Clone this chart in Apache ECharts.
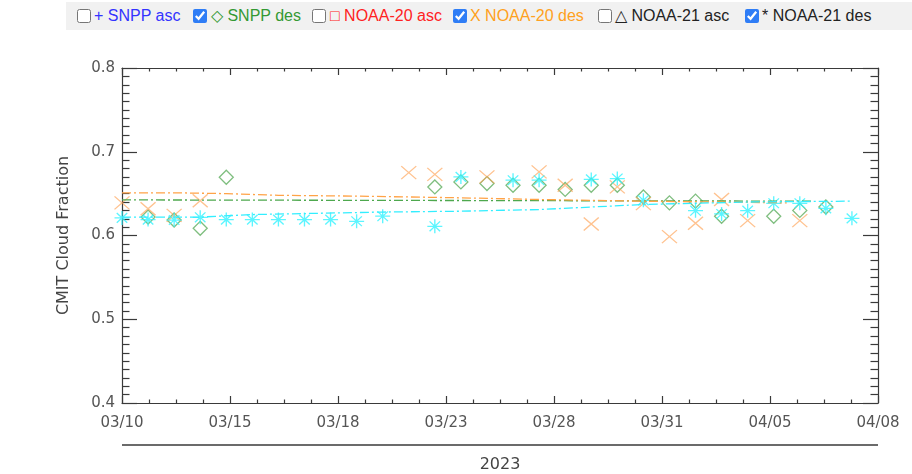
<!DOCTYPE html>
<html>
<head>
<meta charset="utf-8">
<script src="https://cdn.jsdelivr.net/npm/echarts@6/dist/echarts.min.js"></script>
<style>
  html, body { margin: 0; padding: 0; background: #fff; }
  #wrap { position: relative; width: 912px; height: 474px; overflow: hidden; }
  #chart { position: absolute; left: 0; top: 0; width: 912px; height: 474px; }
  #legend { position: absolute; left: 66px; top: 2px; right: 0; height: 28px; background: #f1f1f1;
            font-family: "Liberation Sans", Arial, sans-serif; font-size: 16px; z-index: 2; }
  #legend .cb { position: absolute; top: 7px; width: 14px; height: 14px; margin: 0; accent-color: #2f7df6; }
  #legend .lb { position: absolute; top: 5px; white-space: nowrap; line-height: 18px; }
</style>
</head>
<body>
<div id="wrap">
  <div id="legend"></div>
  <div id="chart"></div>
</div>
<script>
// ---- data ----
const xTickLabels = ['03/10', '03/15', '03/18', '03/23', '03/28', '03/31', '04/05', '04/08'];
const dayMax = 29; // 03/10 -> 04/08

const legendLabels = ['+ SNPP asc', '\u25C7 SNPP des', '\u25A1 NOAA-20 asc', 'X NOAA-20 des', '\u25B3 NOAA-21 asc', '* NOAA-21 des'];
const legendChecked = [false, true, false, true, false, true];

// SNPP descending (green diamonds), day offsets from 03/10
const snppDesDays = [1, 2, 3, 4, 12, 13, 14, 15, 16, 17, 18, 19, 20, 21, 22, 23, 25, 26, 27];
const snppDesVals = [0.622, 0.6185, 0.6086, 0.6695, 0.658, 0.664, 0.662, 0.660, 0.660, 0.655, 0.660, 0.660, 0.646, 0.639, 0.641, 0.623, 0.623, 0.630, 0.634];

// NOAA-20 descending (orange X)
const n20DesDays = [0, 1, 2, 3, 11, 12, 14, 16, 17, 18, 19, 20, 21, 22, 23, 24, 26];
const n20DesVals = [0.639, 0.632, 0.624, 0.6415, 0.675, 0.673, 0.670, 0.676, 0.660, 0.6137, 0.658, 0.638, 0.5986, 0.6146, 0.643, 0.6177, 0.6177];

// NOAA-21 descending (cyan asterisks)
const n21DesDays = [0, 1, 2, 3, 4, 5, 6, 7, 8, 9, 10, 12, 13, 15, 16, 18, 19, 20, 22, 23, 24, 25, 26, 27, 28];
const n21DesVals = [0.621, 0.619, 0.6185, 0.6217, 0.619, 0.619, 0.619, 0.619, 0.619, 0.617, 0.623, 0.611, 0.670, 0.666, 0.666, 0.667, 0.668, 0.642, 0.6296, 0.6257, 0.6296, 0.6385, 0.6385, 0.6325, 0.6205];

// running-mean trend lines (dash-dot)
const snppTrendDays = [0, 26.5];
const snppTrendVals = [0.6425, 0.641];
const n20TrendDays = [0, 2, 4, 6, 9, 13, 16, 20, 25.5];
const n20TrendVals = [0.651, 0.651, 0.650, 0.648, 0.647, 0.645, 0.643, 0.641, 0.639];
const n21TrendDays = [0, 3, 5, 10, 13, 16, 20, 24, 28];
const n21TrendVals = [0.622, 0.622, 0.625, 0.628, 0.629, 0.631, 0.637, 0.640, 0.641];

const yearLabel = '2023';
const yName = 'CMIT Cloud Fraction';

// ---- legend (HTML checkboxes) ----
const legendColors = ['#3333ff', '#339933', '#ff2222', '#ffa020', '#222222', '#222222'];
const legendCbX = [11, 127, 246, 387, 532, 679];
const legendTxtX = [28, 145, 264, 404, 549, 696];
const lg = document.getElementById('legend');
legendLabels.forEach((t, i) => {
  const cb = document.createElement('input');
  cb.type = 'checkbox'; cb.className = 'cb'; cb.checked = legendChecked[i];
  cb.style.left = legendCbX[i] + 'px';
  lg.appendChild(cb);
  const sp = document.createElement('span');
  sp.className = 'lb'; sp.textContent = t; sp.style.color = legendColors[i];
  sp.style.left = legendTxtX[i] + 'px';
  lg.appendChild(sp);
});

// ---- chart ----
const zip = (a, b) => a.map((d, i) => [d, b[i]]);
const majorX = dayMax / (xTickLabels.length - 1);
const axisColor = '#3a3a3a';
const labelColor = '#555';
const fontFam = '"DejaVu Sans", sans-serif';

const chart = echarts.init(document.getElementById('chart'), null, { renderer: 'canvas' });

const xCommon = {
  type: 'value', min: 0, max: dayMax, interval: majorX,
  axisLine: { show: true, onZero: false, lineStyle: { color: axisColor, width: 1.2 } },
  axisTick: { show: true, inside: true, length: 7, lineStyle: { color: axisColor, width: 1.2 } },
  minorTick: { show: true, splitNumber: 4, length: 3.5, lineStyle: { color: axisColor, width: 1.2 } },
  splitLine: { show: false }
};
const yCommon = {
  type: 'value', min: 0.4, max: 0.8, interval: 0.1,
  axisLine: { show: true, onZero: false, lineStyle: { color: axisColor, width: 1.2 } },
  axisTick: { show: true, inside: true, length: 15, lineStyle: { color: axisColor, width: 1.2 } },
  minorTick: { show: true, splitNumber: 10, length: 7.5, lineStyle: { color: axisColor, width: 1.2 } },
  splitLine: { show: false }
};

const xPath = 'path://M0,0L10,10M10,0L0,10';
const starPath = 'path://M5,0L5,10M0,5L10,5M1.5,1.5L8.5,8.5M8.5,1.5L1.5,8.5';
const diamondPath = 'path://M5,0L10,5L5,10L0,5Z';

const option = {
  animation: false,
  grid: { left: 122, right: 34, top: 68, bottom: 71 },
  xAxis: [
    Object.assign({}, xCommon, {
      position: 'bottom',
      axisLabel: {
        show: true, margin: 13, color: labelColor, fontFamily: fontFam, fontSize: 15,
        formatter: v => xTickLabels[Math.round(v / majorX)] || ''
      }
    }),
    Object.assign({}, xCommon, { position: 'top', axisLabel: { show: false } })
  ],
  yAxis: [
    Object.assign({}, yCommon, {
      position: 'left',
      name: yName, nameLocation: 'middle', nameGap: 50, nameRotate: 90,
      nameTextStyle: { color: '#444', fontFamily: fontFam, fontSize: 16 },
      axisLabel: { show: true, margin: 7, color: labelColor, fontFamily: fontFam, fontSize: 15,
                   formatter: v => v.toFixed(1) }
    }),
    Object.assign({}, yCommon, { position: 'right', axisLabel: { show: false } })
  ],
  graphic: [
    { type: 'line', shape: { x1: 122, y1: 445, x2: 878, y2: 445 }, style: { stroke: axisColor, lineWidth: 1.5 } },
    { type: 'text', x: 500, y: 465, style: { text: yearLabel, fill: '#444', font: '16px "DejaVu Sans", sans-serif', align: 'center', verticalAlign: 'middle' } }
  ],
  series: [
    { type: 'line', data: zip(snppTrendDays, snppTrendVals), symbol: 'none', silent: true,
      lineStyle: { color: '#4ea84e', width: 1.3, type: [9, 3, 2, 3] } },
    { type: 'line', data: zip(n20TrendDays, n20TrendVals), symbol: 'none', silent: true,
      lineStyle: { color: '#ffa347', width: 1.3, type: [9, 3, 2, 3] } },
    { type: 'line', data: zip(n21TrendDays, n21TrendVals), symbol: 'none', silent: true,
      lineStyle: { color: '#33eeff', width: 1.3, type: [9, 3, 2, 3] } },
    { type: 'scatter', data: zip(snppDesDays, snppDesVals), symbol: diamondPath, symbolSize: 14,
      itemStyle: { color: 'rgba(0,0,0,0)', borderColor: '#5fae5f', borderWidth: 1.3 } },
    { type: 'scatter', data: zip(n20DesDays, n20DesVals), symbol: xPath, symbolSize: [15, 13],
      itemStyle: { color: 'rgba(0,0,0,0)', borderColor: 'rgba(255,160,80,0.8)', borderWidth: 1.3 } },
    { type: 'scatter', data: zip(n21DesDays, n21DesVals), symbol: starPath, symbolSize: [15, 14],
      itemStyle: { color: 'rgba(0,0,0,0)', borderColor: '#33f3ff', borderWidth: 1.3 } }
  ]
};
chart.setOption(option);
</script>
</body>
</html>
